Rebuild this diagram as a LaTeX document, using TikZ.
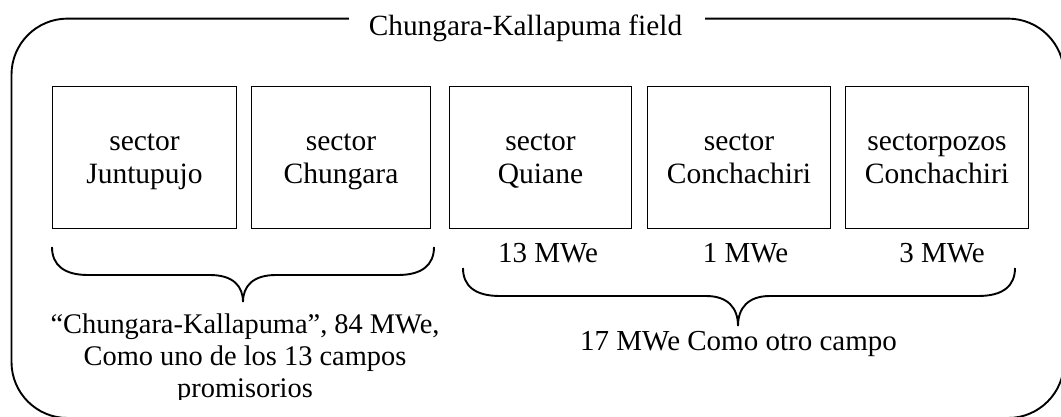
\documentclass[tikz,border=0pt]{standalone}
\usepackage{fontspec}
\setmainfont{Liberation Serif}
\newcommand\topstrut{\rule{0pt}{25pt}}
\newcommand\botstrut{\rule[-6.5pt]{0pt}{6.5pt}}
\begin{document}
\begin{tikzpicture}[x=1pt,y=-1pt,
  every node/.style={inner sep=0pt,outer sep=0pt},
  sbox/.style={draw,line width=1.9pt,minimum height=142pt,align=center,
    font=\fontsize{29.5}{33}\selectfont},
  lbl/.style={font=\fontsize{29}{32}\selectfont,anchor=base},
  frame/.style={line width=1.9pt,rounded corners=56pt},
  brace/.style={line width=1.9pt}]
\useasboundingbox (0,0) rectangle (1061,416);
\clip (0,0) rectangle (1061,416);

% title and frame
\node[lbl,font=\fontsize{29.3}{32}\selectfont] (title) at (525.5,35.5) {Chungara-Kallapuma field};
\coordinate (ft) at (0,18.6);
\draw[frame] ([xshift=-20pt]title.west |- ft) -- (11.5,18.6) -- (11.5,418)
  -- (1064,418) -- (1064,18.6) -- ([xshift=23pt]title.east |- ft);

% sector boxes
\node[sbox,minimum width=184pt] (b1) at (144.5,157.5) {\topstrut sector\\Juntupujo\botstrut};
\node[sbox,minimum width=179pt] (b2) at (341,157.5) {\topstrut sector\\Chungara\botstrut};
\node[sbox,minimum width=182pt] (b3) at (540.5,157.5) {\topstrut sector\\Quiane\botstrut};
\node[sbox,minimum width=183pt] (b4) at (739,157.5) {\topstrut sector\\Conchachiri\botstrut};
\node[sbox,minimum width=183pt] (b5) at (937,157.5) {\topstrut sectorpozos\\Conchachiri\botstrut};

% capacity labels
\node[lbl] (m3) at (548,262) {13 MWe};
\node[lbl] (m4) at (745.5,262) {1 MWe};
\node[lbl] (m5) at (942,262) {3 MWe};

% braces
\draw[brace] (52,247) .. controls (52,265) and (64,275) .. (88,275) -- (210,275)
  .. controls (233,275) and (243,286) .. (243,302)
  .. controls (243,286) and (253,275) .. (276,275) -- (398,275)
  .. controls (422,275) and (434,265) .. (434,247);
\draw[brace] (463,268) .. controls (463,286) and (475,296) .. (500,296) -- (706,296)
  .. controls (728,296) and (738,308) .. (738,326)
  .. controls (738,308) and (748,296) .. (770,296) -- (978,296)
  .. controls (1003,296) and (1015,286) .. (1015,268);

% group captions
\begin{scope}
\clip (0,0) rectangle (1061,399.5);
\node[font=\fontsize{28.4}{32}\selectfont,align=center,anchor=north] (c1) at (245,312)
  {\rule{0pt}{21pt}“Chungara-Kallapuma”, 84 MWe,\\Como uno de los 13 campos\\promisorios};
\end{scope}
\node[lbl] (c2) at (738.5,350) {17 MWe Como otro campo};
\end{tikzpicture}
\end{document}
